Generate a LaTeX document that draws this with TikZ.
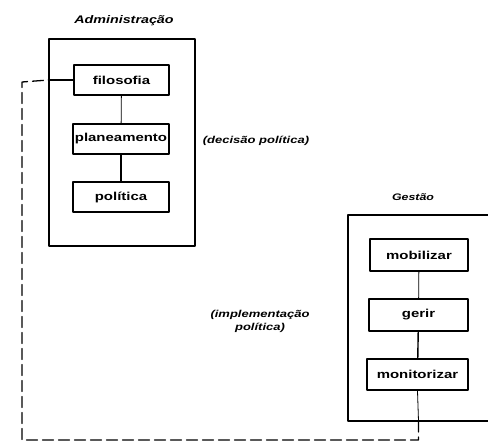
\documentclass[tikz,border=0pt]{standalone}
\usepackage{fontspec}
\setmainfont{Liberation Sans}[FakeStretch=1.3]

\begin{document}
\begin{tikzpicture}[x=1pt,y=-1pt,line cap=round,line join=round,
    every node/.style={inner sep=1.1pt},
    frame/.style={draw,line width=1.3pt},
    stage/.style={draw,line width=1.6pt,minimum height=30pt,font=\bfseries\fontsize{11.5}{12}\selectfont},
    heading/.style={font=\bfseries\itshape\fontsize{11}{12}\selectfont},
    remark/.style={font=\bfseries\itshape\fontsize{10}{13}\selectfont,align=center},
    link/.style={line width=1.4pt},
    loop/.style={line width=1.3pt,dash pattern=on 11pt off 5pt}]
  \useasboundingbox (0,0) rectangle (488,445);
  % Administração
  \node[heading] (admtitle) at (124,21) {Administração};
  \node[frame,minimum width=146pt,minimum height=207pt] (adm) at (122,142.5) {};
  \node[stage,minimum width=95pt] (filo) at (121.5,80) {filosofia};
  \node[stage,minimum width=96pt] (plan) at (121,139) {planeamento};
  \node[stage,minimum width=96pt] (poli) at (121,197) {política};
  \draw[line width=0.8pt] (filo) -- (plan);
  \draw[link] (plan) -- (poli);
  \draw[link] (adm.west |- filo.west) -- (filo.west);
  \node[remark] (dec) at (256,141) {(decisão política)};
  % Gestão
  \node[heading,font=\bfseries\itshape\fontsize{9.5}{12}\selectfont] (gestitle) at (413,197) {Gestão};
  \draw[frame] (492,215) -- (348,215) -- (348,421) -- (492,421);
  \coordinate (gbot) at (418.5,421);
  \node[stage,minimum width=98pt,minimum height=32pt] (mobi) at (419,255) {mobilizar};
  \node[stage,minimum width=99pt,minimum height=32pt] (geri) at (418.5,315) {gerir};
  \node[stage,minimum width=101pt,minimum height=31pt] (moni) at (417.5,374.5) {monitorizar};
  \draw[line width=0.8pt] (mobi) -- (geri);
  \draw[link] (geri) -- (moni);
  \draw[line width=0.8pt] (moni.south) -- (gbot);
  \node[remark] (impl) at (260,321) {(implementação\\política)};
  % retorno
  \draw[loop] (gbot) -- (418.5,440) -| (22,82) -- (adm.west |- filo.west);
\end{tikzpicture}
\end{document}
